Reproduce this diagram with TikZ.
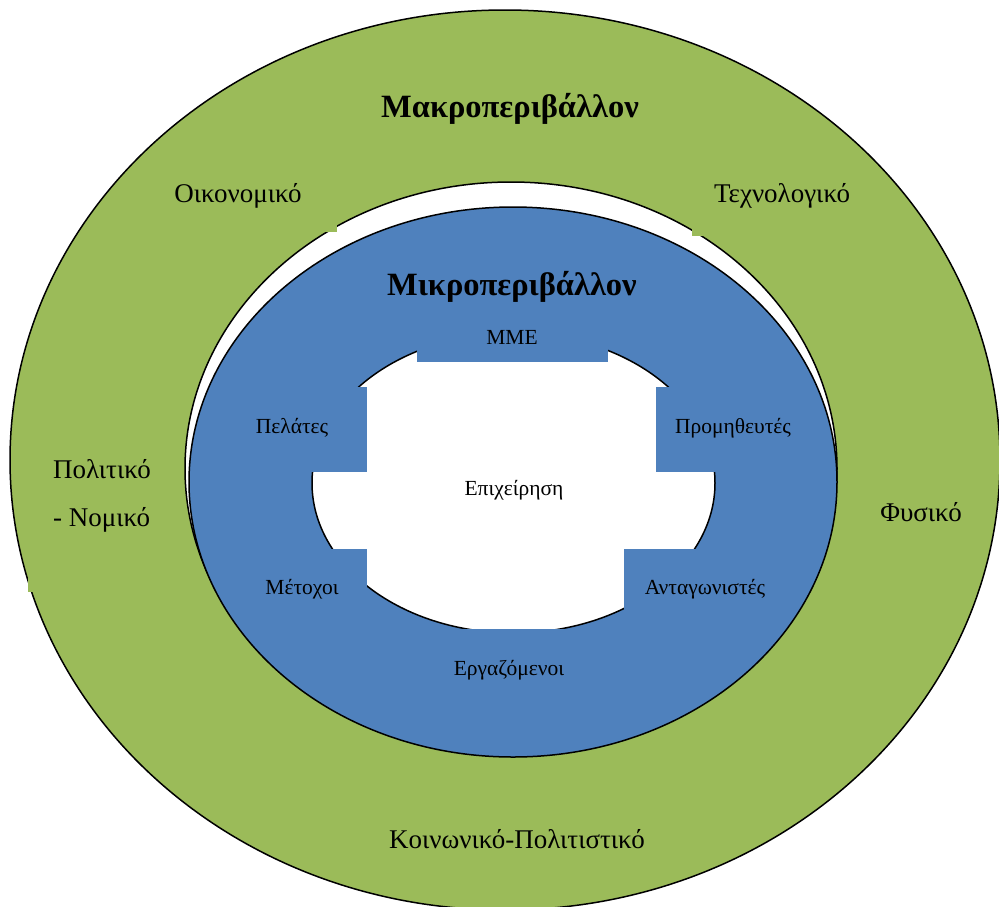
\documentclass[tikz,border=0pt]{standalone}
\usepackage{fontspec}
\setmainfont{Liberation Serif}
\definecolor{ggreen}{HTML}{9BBB59}
\definecolor{gblue}{HTML}{4F81BD}
\begin{document}
\begin{tikzpicture}[x=1pt,y=-1pt,
  ring/.style={draw=black,line width=1.5pt},
  gbox/.style={fill=ggreen},
  bbox/.style={fill=gblue},
  outerlbl/.style={font=\fontsize{27}{31}\selectfont, anchor=base, inner sep=0pt},
  innerlbl/.style={font=\fontsize{21.5}{25}\selectfont, anchor=base, inner sep=0pt},
  titlelbl/.style={font=\fontsize{32.5}{36}\selectfont\bfseries, anchor=base, inner sep=0pt}]
\useasboundingbox (0,0) rectangle (999,906);
\clip (0,0) rectangle (999,906);
\fill[white] (0,0) rectangle (999,906);
% rings
\draw[ring, fill=ggreen] (505,460) ellipse [x radius=495pt, y radius=450pt];
\draw[ring, fill=white] (511,468.5) ellipse [x radius=326pt, y radius=286.5pt];
\draw[ring, fill=gblue] (513,482) ellipse [x radius=324pt, y radius=275pt];
\draw[ring, fill=white] (513.5,483) ellipse [x radius=201.5pt, y radius=150pt];
% green text boxes
\fill[gbox] (165,168) rectangle (337,232);
\fill[gbox] (692,168) rectangle (865,236);
\fill[gbox] (28,440) rectangle (170,592);
% blue text boxes
\fill[bbox] (417,318) rectangle (608,362);
\fill[bbox] (240,387) rectangle (367,472);
\fill[bbox] (656,387) rectangle (805,472);
\fill[bbox] (250,549) rectangle (367,615);
\fill[bbox] (624,549) rectangle (780,615);
\fill[bbox] (430,629) rectangle (595,700);
% labels
\node[titlelbl] (macro) at (510,117) {Μακροπεριβάλλον};
\node[outerlbl] (oikon) at (238,202) {Οικονομικό};
\node[outerlbl] (tech) at (782,202) {Τεχνολογικό};
\node[outerlbl, anchor=base west] (polit) at (53,478) {Πολιτικό};
\node[outerlbl, anchor=base west] (nomik) at (53,526) {- Νομικό};
\node[outerlbl] (fysik) at (921,521) {Φυσικό};
\node[outerlbl] (koin) at (517,848) {Κοινωνικό-Πολιτιστικό};
\node[titlelbl] (micro) at (512,295) {Μικροπεριβάλλον};
\node[innerlbl] (mme) at (512,344) {ΜΜΕ};
\node[innerlbl] (pel) at (292,433) {Πελάτες};
\node[innerlbl] (prom) at (733,433) {Προμηθευτές};
\node[innerlbl] (epix) at (514,495) {Επιχείρηση};
\node[innerlbl] (metox) at (302,594) {Μέτοχοι};
\node[innerlbl] (antag) at (705,594) {Ανταγωνιστές};
\node[innerlbl] (ergaz) at (509,675) {Εργαζόμενοι};
\end{tikzpicture}
\end{document}
